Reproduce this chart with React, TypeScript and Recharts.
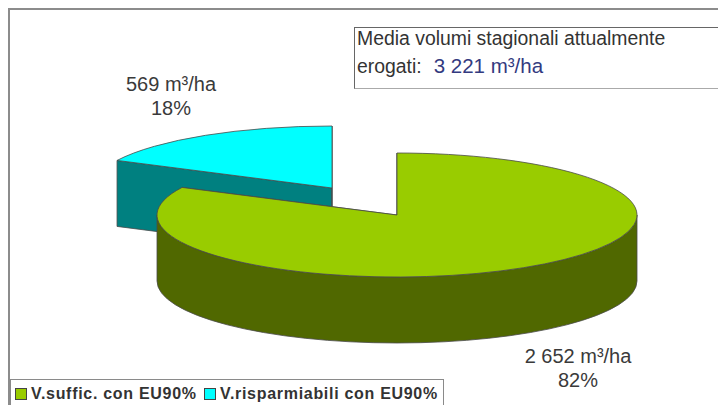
import React from "react";
import { PieChart, Pie, Cell, Legend } from "recharts";

const categories = ["V.risparmiabili con EU90%", "V.suffic. con EU90%"];
const volumes = [569, 2652];
const volumeLabels = ["569 m³/ha", "2 652 m³/ha"];
const percentLabels = ["18%", "82%"];
const legendOrder = [1, 0];
const topColors = ["#00FFFF", "#99CC00"];
const sideColors = ["#008080", "#506800"];
const noteLines = ["Media volumi stagionali attualmente", "erogati:"];
const noteValue = "3 221 m³/ha";

const data = categories.map((name, i) => ({ name, value: volumes[i] }));
const total = volumes.reduce((a, b) => a + b, 0);
const START = 90 + (360 * volumes[0]) / total;

const W = 718, H = 405;
const PIE_CX = 397, PIE_CY = 215, RX = 240, RY = 62, DEPTH = 66;
const EXPLODE: Record<number, [number, number]> = { 0: [-65, -27], 1: [0, 0] };
const LABEL_POS: Record<number, [number, number]> = { 0: [171, 91], 1: [578, 363] };
const FONT = "'Liberation Sans', Arial, sans-serif";

function Sector3D(props: any) {
  const { cx, cy, startAngle, endAngle, outerRadius, index } = props;
  const [ox, oy] = EXPLODE[index] ?? [0, 0];
  const k = RY / RX;
  const x0 = cx + ox, y0 = cy + oy;
  const pt = (deg: number, dy = 0): [number, number] => {
    const a = (deg * Math.PI) / 180;
    return [x0 + outerRadius * Math.cos(a), y0 - outerRadius * k * Math.sin(a) + dy];
  };
  const hi = Math.max(startAngle, endAngle), lo = Math.min(startAngle, endAngle);
  const [sx, sy] = pt(hi), [ex, ey] = pt(lo);
  const large = hi - lo > 180 ? 1 : 0;
  const rx = outerRadius, ry = outerRadius * k;
  const top = `M${x0},${y0} L${sx},${sy} A${rx},${ry} 0 ${large} 1 ${ex},${ey} Z`;
  const wall = (deg: number) => {
    const [px, py] = pt(deg);
    return `M${x0},${y0} L${px},${py} L${px},${py + DEPTH} L${x0},${y0 + DEPTH} Z`;
  };
  // visible outer wall: part of the sector on the front half (angles -180..0)
  const f0 = Math.max(lo, -180), f1 = Math.min(hi, 0);
  let front = "";
  if (f1 > f0) {
    const [ax, ay] = pt(f1), [bx, by] = pt(f0);
    front = `M${ax},${ay} A${rx},${ry} 0 0 1 ${bx},${by} L${bx},${by + DEPTH} A${rx},${ry} 0 0 0 ${ax},${ay + DEPTH} Z`;
  }
  const stroke = "#4a4a4a";
  return (
    <g>
      <path d={wall(hi)} fill={sideColors[index]} stroke={stroke} strokeWidth={0.8} />
      <path d={wall(lo)} fill={sideColors[index]} stroke={stroke} strokeWidth={0.8} />
      {front && <path d={front} fill={sideColors[index]} stroke={stroke} strokeWidth={0.8} />}
      <path d={top} fill={topColors[index]} stroke={stroke} strokeWidth={0.8} />
    </g>
  );
}

function renderLabel(props: any) {
  const i = props.index as number;
  const [x, y] = LABEL_POS[i];
  return (
    <text x={x} y={y} textAnchor="middle" fontFamily={FONT} fontSize={20} fill="#3a3a3a">
      <tspan x={x}>{volumeLabels[i]}</tspan>
      <tspan x={x} dy={24}>{percentLabels[i]}</tspan>
    </text>
  );
}

function LegendBox() {
  return (
    <div style={{ position: "relative", height: 27, width: 434, boxSizing: "border-box", border: "1px solid #8a8a8a", borderBottom: "none", background: "#fff", fontFamily: FONT, fontWeight: 700, fontSize: 16, color: "#333", whiteSpace: "nowrap", letterSpacing: 0.7 }}>
      {legendOrder.map((i, n) => (
        <span key={i} style={{ position: "absolute", left: n === 0 ? 4 : 193, top: 4, lineHeight: "20px", display: "inline-flex", alignItems: "center" }}>
          <span style={{ width: 10, height: 10, background: topColors[i], border: "1px solid #444", marginRight: 4 }} />
          {categories[i]}
        </span>
      ))}
    </div>
  );
}

export default function App() {
  return (
    <div style={{ position: "absolute", left: 0, top: 0, width: W, height: H, background: "#fff", overflow: "hidden" }}>
      <div style={{ position: "absolute", left: 8, top: 8, width: W, height: H, boxSizing: "border-box", border: "2px solid #8c8c8c" }} />
      <div style={{ position: "absolute", left: 0, top: 0 }}>
        <PieChart width={W} height={H} margin={{ top: 0, right: 0, bottom: 0, left: 0 }} style={{ background: "transparent" }}>
          <Pie
            data={data}
            dataKey="value"
            nameKey="name"
            cx={PIE_CX}
            cy={PIE_CY}
            outerRadius={RX}
            startAngle={START}
            endAngle={START - 360}
            paddingAngle={0}
            isAnimationActive={false}
            shape={Sector3D}
            label={renderLabel}
            labelLine={false}
            stroke="none"
          >
            {data.map((d, i) => <Cell key={d.name} fill={topColors[i]} />)}
          </Pie>
          <Legend content={<LegendBox />} wrapperStyle={{ position: "absolute", left: 10, top: 379, width: 434, height: 27 }} />
        </PieChart>
      </div>
      <div style={{ position: "absolute", left: 354, top: 27, width: 380, height: 62, boxSizing: "border-box", border: "1px solid #666", borderBottomColor: "#aaa", background: "#fff", fontFamily: FONT, fontSize: 19.4, color: "#333", lineHeight: "27px", paddingLeft: 2, whiteSpace: "nowrap" }}>
        <div style={{ marginTop: -3 }}>{noteLines[0]}</div>
        <div>{noteLines[1]}<span style={{ color: "#333a80", fontSize: 20.5, marginLeft: 12 }}>{noteValue}</span></div>
      </div>
    </div>
  );
}
